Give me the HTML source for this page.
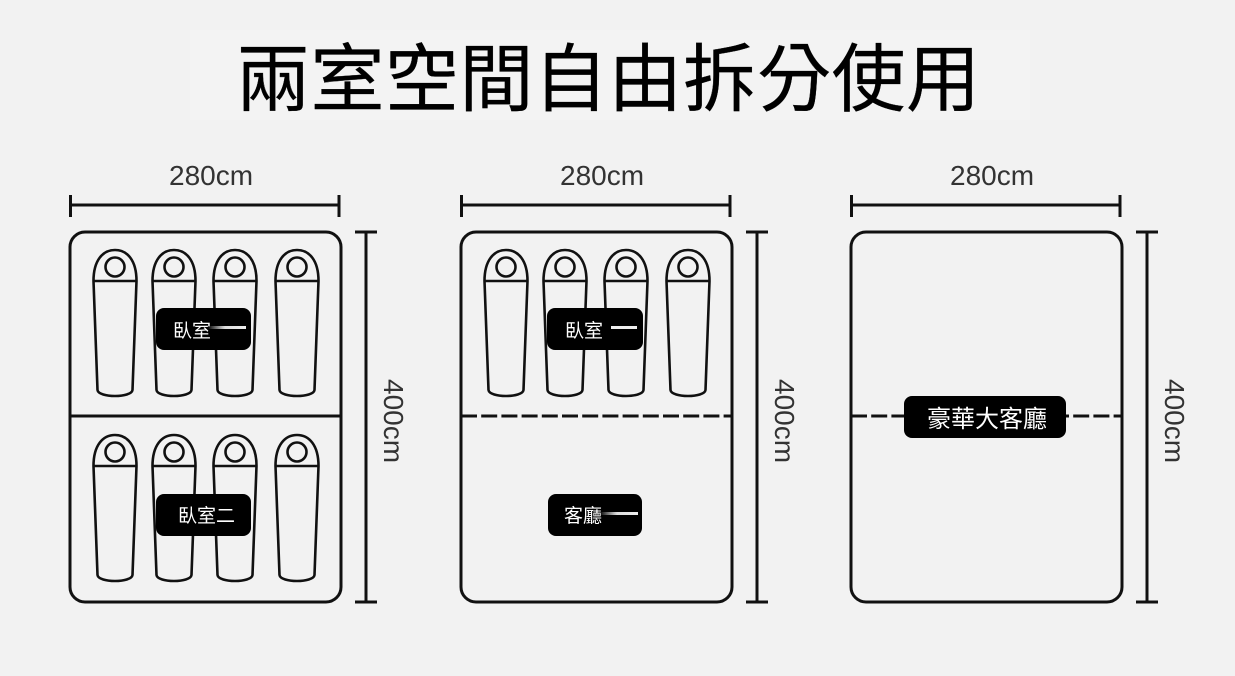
<!DOCTYPE html>
<html><head><meta charset="utf-8"><style>
html,body{margin:0;padding:0;background:#f2f2f2}
svg{display:block}
.d{font-family:"Liberation Sans",sans-serif;font-size:28px;fill:#333}
.l{font-family:"Liberation Sans","WenQuanYi Zen Hei","Noto Sans CJK TC",sans-serif;fill:#fff}
.t{font-family:"Liberation Sans","WenQuanYi Zen Hei","Noto Sans CJK TC",sans-serif;font-size:74px;fill:#000;stroke:#000;stroke-width:.3px}
</style></head><body>
<svg xmlns="http://www.w3.org/2000/svg" width="1235" height="676" viewBox="0 0 1235 676">
<defs>
<linearGradient id="g"><stop offset="0" stop-color="#fff" stop-opacity="0"/><stop offset=".45" stop-color="#ddd"/><stop offset="1" stop-color="#eee"/></linearGradient>
<g id="b" fill="none" stroke="#111" stroke-width="2.6">
<path d="M-21.500 31C-21.500 10-12 0 0 0S21.500 10 21.500 31L17.500 140C16.500 148 -16.500 148 -17.500 140Z" stroke-linejoin="round"/>
<path d="M-21.500 31H21.500"/>
<circle cx="0" cy="17" r="9.5"/>
</g>
<g id="r"><use href="#b" x="115"/><use href="#b" x="174"/><use href="#b" x="235"/><use href="#b" x="297"/></g>
<g id="p" fill="none" stroke="#111">
<rect x="70" y="232" width="271" height="370" rx="15" stroke-width="3"/>
<path d="M70.500 205H339M70.500 195V217M339 195V217" stroke-width="3"/>
<path d="M366 232V602M355 232H377M355 602H377" stroke-width="3"/>
</g>
</defs>
<rect width="1235" height="676" fill="#f2f2f2"/>
<rect x="190" y="30" width="840" height="90" fill="#f3f3f3"/>
<text class="t" x="236" y="105" textLength="744" lengthAdjust="spacing">兩室空間自由拆分使用</text>

<use href="#p"/><use href="#p" x="391"/><use href="#p" x="781"/>

<text class="d" x="169" y="185">280cm</text>
<text class="d" x="560" y="185">280cm</text>
<text class="d" x="950" y="185">280cm</text>
<text class="d" transform="translate(384 379) rotate(90)">400cm</text>
<text class="d" transform="translate(775 379) rotate(90)">400cm</text>
<text class="d" transform="translate(1165 379) rotate(90)">400cm</text>

<use href="#r" y="250"/><use href="#r" y="435"/><use href="#r" x="391" y="250"/>

<path d="M70 416H341" stroke="#111" stroke-width="3"/>
<path d="M461 416H732" stroke="#111" stroke-width="3" stroke-dasharray="16 4.2"/>
<path d="M851 416H1122" stroke="#111" stroke-width="3" stroke-dasharray="16 4.2"/>

<rect x="156" y="308" width="95" height="42" rx="8" fill="#000"/>
<rect x="156" y="494" width="95" height="42" rx="8" fill="#000"/>
<rect x="547" y="308" width="96" height="42" rx="8" fill="#000"/>
<rect x="548" y="494" width="94" height="42" rx="8" fill="#000"/>
<rect x="904" y="396" width="162" height="42" rx="8" fill="#000"/>

<text class="l" x="173" y="337" font-size="19">臥室</text>
<rect x="208" y="326" width="38" height="3" fill="url(#g)"/>
<text class="l" x="178" y="522" font-size="19">臥室二</text>
<text class="l" x="565" y="337" font-size="19">臥室</text>
<rect x="611" y="326" width="26" height="3" fill="#eee"/>
<text class="l" x="564" y="522" font-size="19">客廳</text>
<rect x="600" y="512" width="38" height="3" fill="url(#g)"/>
<text class="l" x="927" y="427" font-size="24">豪華大客廳</text>
</svg>
</body></html>
